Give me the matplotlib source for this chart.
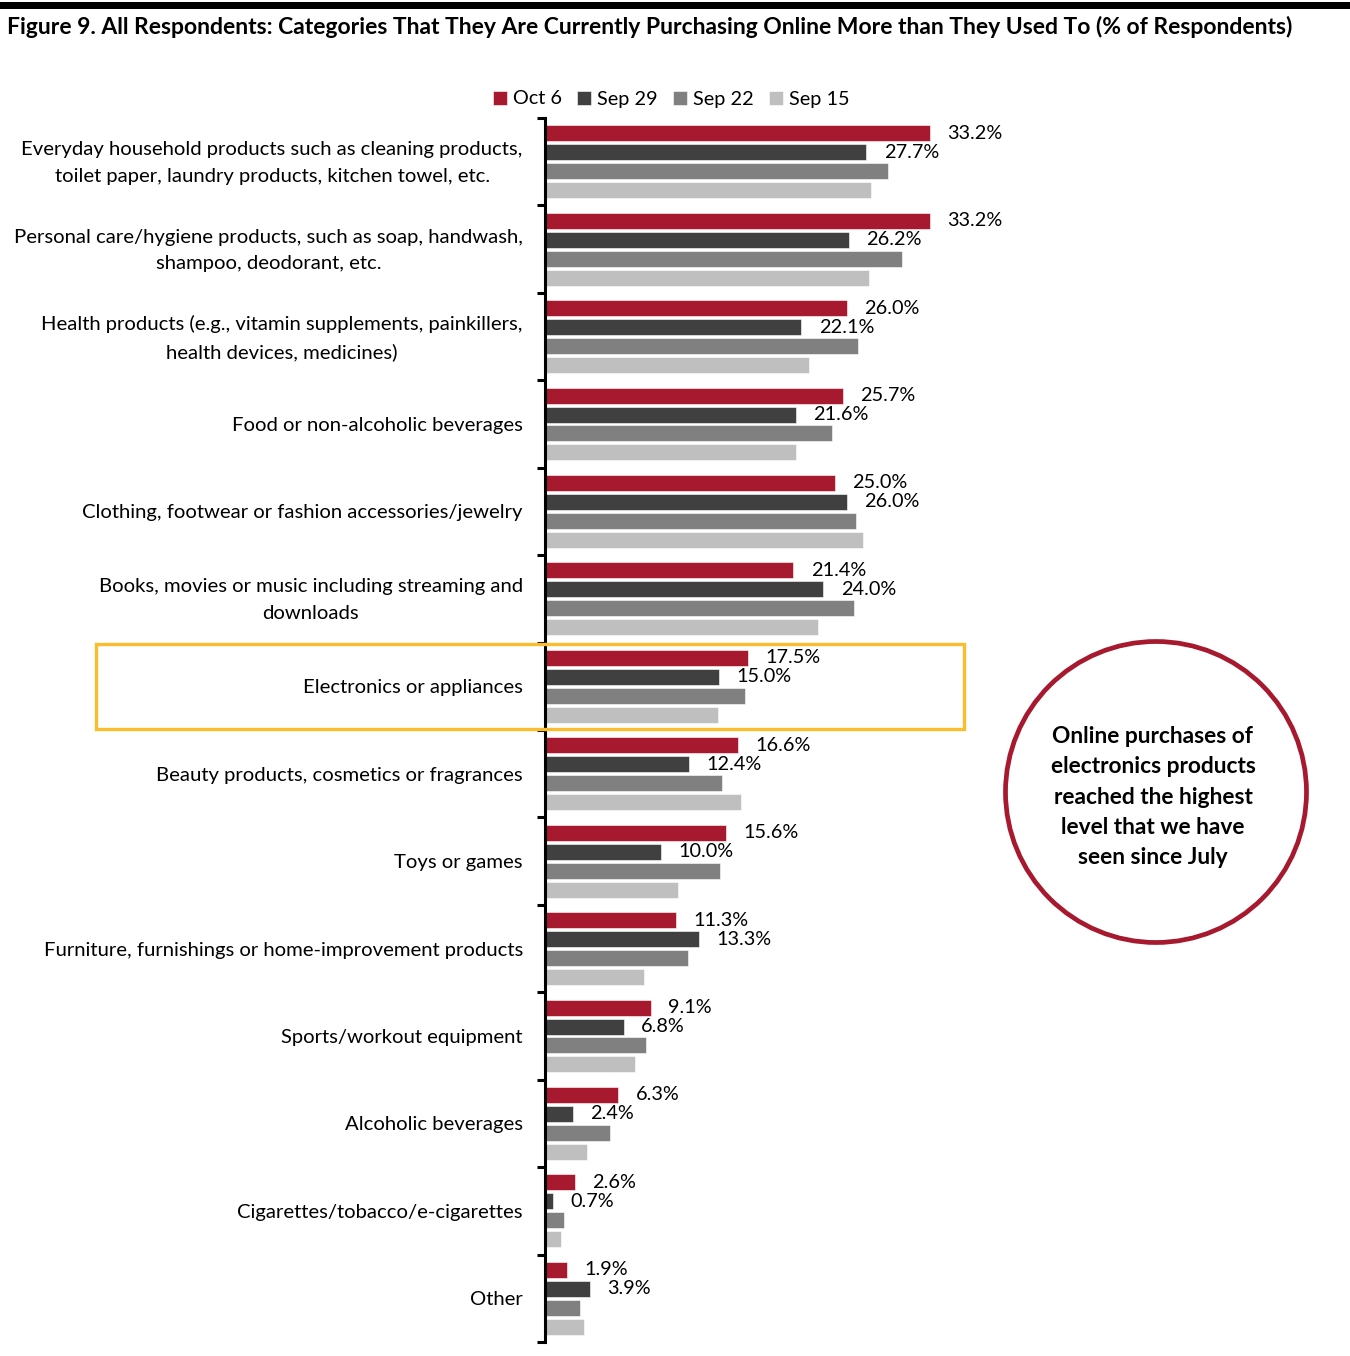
import matplotlib
matplotlib.use("Agg")
import matplotlib.pyplot as plt
import matplotlib.patches as mpatches
import matplotlib.transforms as mtransforms
import numpy as np

categories = [
    "Everyday household products such as cleaning products,\ntoilet paper, laundry products, kitchen towel, etc.",
    "Personal care/hygiene products, such as soap, handwash,\nshampoo, deodorant, etc.",
    "Health products (e.g., vitamin supplements, painkillers,\nhealth devices, medicines)",
    "Food or non-alcoholic beverages",
    "Clothing, footwear or fashion accessories/jewelry",
    "Books, movies or music including streaming and\ndownloads",
    "Electronics or appliances",
    "Beauty products, cosmetics or fragrances",
    "Toys or games",
    "Furniture, furnishings or home-improvement products",
    "Sports/workout equipment",
    "Alcoholic beverages",
    "Cigarettes/tobacco/e-cigarettes",
    "Other",
]
series_names = ["Oct 6", "Sep 29", "Sep 22", "Sep 15"]
oct6 = [33.2, 33.2, 26.0, 25.7, 25.0, 21.4, 17.5, 16.6, 15.6, 11.3, 9.1, 6.3, 2.6, 1.9]
sep29 = [27.7, 26.2, 22.1, 21.6, 26.0, 24.0, 15.0, 12.4, 10.0, 13.3, 6.8, 2.4, 0.7, 3.9]
sep22 = [29.6, 30.8, 27.0, 24.7, 26.8, 26.6, 17.2, 15.3, 15.1, 12.3, 8.7, 5.6, 1.6, 3.0]
sep15 = [28.1, 27.9, 22.8, 21.6, 27.4, 23.5, 14.9, 16.9, 11.5, 8.5, 7.8, 3.6, 1.4, 3.4]
colors = ["#A6192E", "#404040", "#808080", "#BFBFBF"]

FONT = "Lato"
plt.rcParams["font.family"] = [FONT, "DejaVu Sans"]

W, H = 1350, 1356
fig = plt.figure(figsize=(W / 100, H / 100), dpi=100)

def fx(px):
    return px / W

def fy(py):
    return 1 - py / H

ax = fig.add_axes([fx(545), fy(1342), fx(1000) - fx(545), fy(118) - fy(1342)])

n = len(categories)
y = np.arange(n)
step = 0.217
bh = 0.183
all_series = [oct6, sep29, sep22, sep15]
for k, (vals, c, name) in enumerate(zip(all_series, colors, series_names)):
    off = (k - 1.5) * step
    ax.barh(y + off, vals, height=bh, color=c, label=name,
            edgecolor="white", linewidth=0.4)
    if k < 2:
        for yi, v in zip(y + off, vals):
            ax.annotate(f"{v:.1f}%", xy=(v, yi), xytext=(12.5, 0),
                        textcoords="offset points", va="center", ha="left",
                        fontsize=14.3, color="black")

ax.set_xlim(0, 455 / 11.6)
ax.set_ylim(n - 0.5, -0.5)
ax.set_yticks(y)
ax.set_yticklabels(categories, fontsize=14.6, multialignment="center", linespacing=1.68)
ax.tick_params(axis="y", which="major", length=0, pad=16)
ax.set_yticks(np.arange(n + 1) - 0.5, minor=True)
ax.tick_params(axis="y", which="minor", length=6, width=2.2, direction="out")
ax.set_xticks([])
for s in ["top", "right", "bottom"]:
    ax.spines[s].set_visible(False)
ax.spines["left"].set_linewidth(2.2)

# nudge two-line labels up to sit centred on their band
shift = mtransforms.ScaledTranslation(0, 5 / 100, fig.dpi_scale_trans)
for lbl in ax.get_yticklabels():
    if "\n" in lbl.get_text():
        lbl.set_transform(lbl.get_transform() + shift)

# top black rule and title
fig.add_artist(mpatches.Rectangle((0, fy(9)), 1, fy(2) - fy(9), transform=fig.transFigure,
                                  color="black", lw=0))
fig.text(fx(7), fy(27), "Figure 9. All Respondents: Categories That They Are Currently Purchasing Online More than They Used To (% of Respondents)",
         fontsize=16.5, fontweight="bold", ha="left", va="center")

# legend
handles, labels = ax.get_legend_handles_labels()
fig.legend(handles, labels, loc="center", bbox_to_anchor=(fx(671), fy(99)), ncol=4,
           frameon=False, fontsize=14.3, handlelength=0.7, handleheight=0.7,
           handletextpad=0.3, columnspacing=0.77, borderaxespad=0)

# highlight box
fig.add_artist(mpatches.Rectangle((fx(96), fy(729)), fx(964) - fx(96), fy(644) - fy(729),
                                  transform=fig.transFigure, fill=False,
                                  edgecolor="#FBBC2E", lw=2.4))

# circle callout
fig.add_artist(mpatches.Ellipse((fx(1156), fy(792)), 301 / W, 301 / H,
                                transform=fig.transFigure, fill=False,
                                edgecolor="#A6192E", lw=3.4))
fig.text(fx(1153), fy(797),
         "Online purchases of\nelectronics products\nreached the highest\nlevel that we have\nseen since July",
         fontsize=16.4, fontweight="bold", ha="center", va="center", linespacing=1.54)

fig.savefig("out.png", dpi=100)
